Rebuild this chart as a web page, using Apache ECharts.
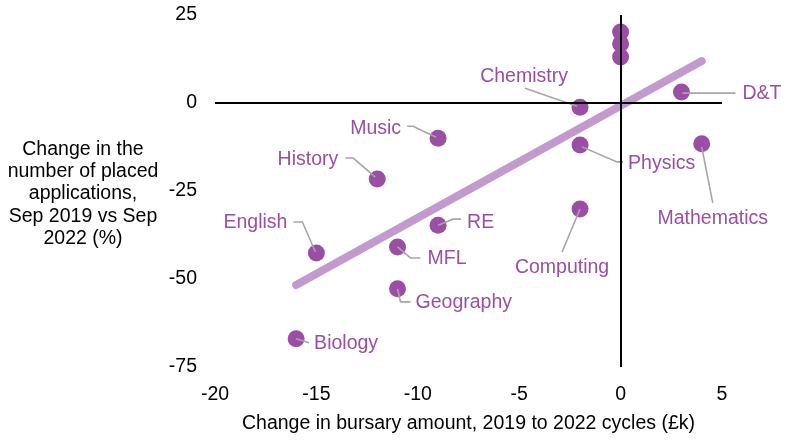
<!DOCTYPE html>
<html>
<head>
<meta charset="utf-8">
<script src="https://cdn.jsdelivr.net/npm/echarts@6/dist/echarts.min.js"></script>
<style>html,body{margin:0;padding:0;background:#fff}#c{width:800px;height:446px}</style>
</head>
<body>
<div id="c"></div>
<script>
// ---- data ----
const subjects = ['', '', '', 'Chemistry', 'D&T', 'Physics', 'Mathematics', 'Music', 'History', 'English', 'RE', 'MFL', 'Geography', 'Biology', 'Computing'];
const bursaryChange = [0, 0, 0, -2, 3, -2, 4, -9, -12, -15, -9, -11, -11, -16, -2];
const applicationsChange = [20.2, 16.8, 13.1, -1.2, 3.1, -11.9, -11.6, -10.0, -21.6, -42.6, -34.7, -40.9, -52.8, -67.0, -30.1];
const trendX = [-16, 4];
const trendY = [-51.7, 11.9];
const xTicks = { min: -20, max: 5, interval: 5 };
const yTicks = { min: -75, max: 25, interval: 25 };
const xTitle = 'Change in bursary amount, 2019 to 2022 cycles (£k)';
const yTitle = 'Change in the\nnumber of placed\napplications,\nSep 2019 vs Sep\n2022 (%)';

// ---- label layout (pixel offsets from each point) ----
const labelLayout = {
  'Chemistry':   { line: [[-3,-1],[-55,-19]], text: [-56,-31], align: 'center' },
  'D&T':         { line: [[1,1],[54,1]], text: [61,2], align: 'left' },
  'Physics':     { line: [[2,2],[37,17],[43,17]], text: [48,19], align: 'left' },
  'Mathematics': { line: [[0,3],[11,59]], text: [11,75], align: 'center' },
  'Music':       { line: [[-2,-1],[-25,-12],[-31,-12]], text: [-37,-10], align: 'right' },
  'History':     { line: [[-2,-2],[-24,-21],[-32,-21]], text: [-39,-19], align: 'right' },
  'English':     { line: [[-1,-1],[-14,-31],[-23,-31]], text: [-29,-30], align: 'right' },
  'RE':          { line: [[0,0],[15,-6],[23,-6]], text: [29,-3], align: 'left' },
  'MFL':         { line: [[0,0],[13,11],[23,11]], text: [30,12], align: 'left' },
  'Geography':   { line: [[0,0],[3,13],[13,13]], text: [18,14], align: 'left' },
  'Biology':     { line: [[0,0],[13,4]], text: [18,5], align: 'left' },
  'Computing':   { line: [[0,0],[-18,43]], text: [-18,59], align: 'center' }
};

const FONT = 'Liberation Sans, Arial, sans-serif';
const FS = 19.5;
const PURPLE = '#9A4FA5';
const LABEL = '#9A4FA3';

const points = bursaryChange.map((x, i) => [x, applicationsChange[i], i]);
const trend = trendX.map((x, i) => [x, trendY[i]]);

const chart = echarts.init(document.getElementById('c'));
chart.setOption({
  animation: false,
  grid: { left: 215, right: 78, top: 15, bottom: 79 },
  xAxis: {
    type: 'value', min: xTicks.min, max: xTicks.max, interval: xTicks.interval,
    axisLine: { show: false }, axisTick: { show: false }, splitLine: { show: false },
    axisLabel: { color: '#000', fontFamily: FONT, fontSize: FS, margin: 18 },
    name: xTitle, nameLocation: 'middle', nameGap: 47,
    nameTextStyle: { color: '#000', fontFamily: FONT, fontSize: FS }
  },
  yAxis: {
    type: 'value', min: yTicks.min, max: yTicks.max, interval: yTicks.interval,
    axisLine: { show: false }, axisTick: { show: false }, splitLine: { show: false },
    axisLabel: { color: '#000', fontFamily: FONT, fontSize: FS, margin: 18, padding: [4, 0, 0, 0] }
  },
  graphic: [{
    type: 'text', x: 83, y: 194, z: 10,
    style: { text: yTitle, x: 0, y: 0, align: 'center', verticalAlign: 'middle', fill: '#000', font: FS + 'px ' + FONT, lineHeight: 22.3 }
  }],
  series: [
    {
      type: 'line', data: trend, showSymbol: false, symbol: 'none', z: 2,
      lineStyle: { color: '#C39ACD', width: 8, cap: 'round' },
      markLine: {
        silent: true, symbol: 'none', label: { show: false },
        lineStyle: { color: '#000', width: 2, type: 'solid' },
        data: [{ xAxis: 0 }, { yAxis: 0 }]
      }
    },
    {
      type: 'scatter', data: points, symbolSize: 17, z: 3,
      itemStyle: { color: PURPLE, opacity: 1 }
    },
    {
      type: 'custom', z: 4, data: points,
      renderItem: function (params, api) {
        const name = subjects[api.value(2)];
        const lay = labelLayout[name];
        if (!lay) return null;
        const p = api.coord([api.value(0), api.value(1)]);
        const pts = lay.line.map(o => [p[0] + o[0], p[1] + o[1]]);
        return {
          type: 'group',
          children: [
            { type: 'polyline', shape: { points: pts }, style: { stroke: '#A6A6A6', lineWidth: 1.6, fill: null } },
            { type: 'text', x: p[0] + lay.text[0], y: p[1] + lay.text[1],
              style: { text: name, align: lay.align, verticalAlign: 'middle', fill: LABEL, font: FS + 'px ' + FONT } }
          ]
        };
      }
    }
  ]
});
</script>
</body>
</html>
